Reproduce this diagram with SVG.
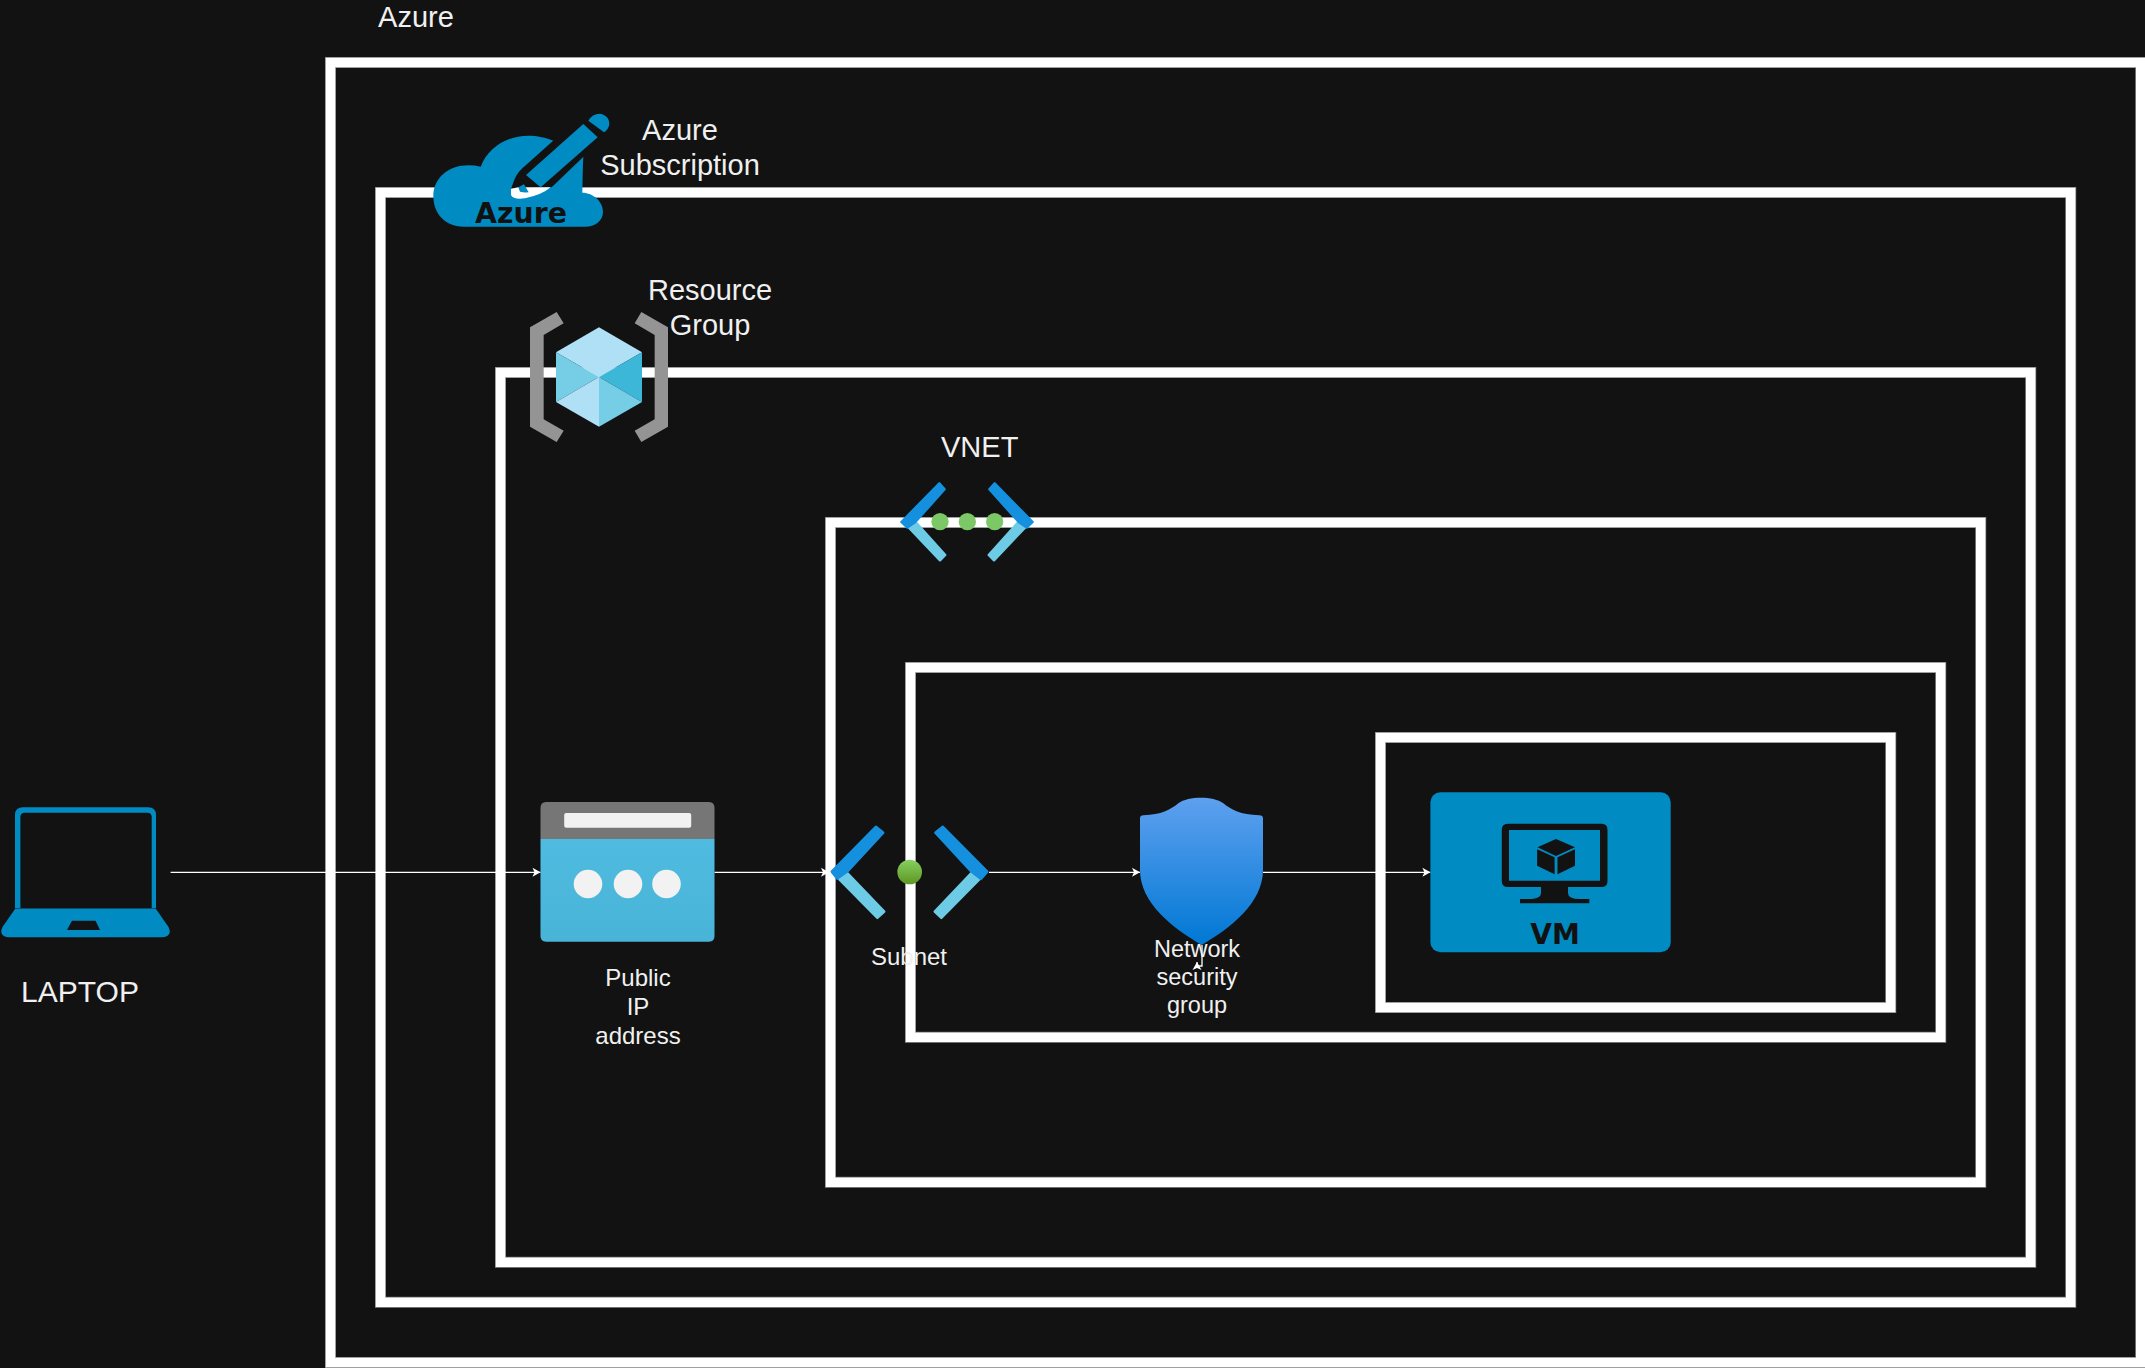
<svg xmlns="http://www.w3.org/2000/svg" width="2145" height="1368" viewBox="0 0 2145 1368">
<defs>
<style>
.edge{fill:none;stroke:#8a8a8a;stroke-width:11}
.bar{fill:none;stroke:#fff;stroke-width:9.4}
.t{font-family:"Liberation Sans",Arial,sans-serif;fill:#f0f0f0;text-anchor:middle}
.l{font-size:29px}
.s{font-size:24px}
.b{font-family:"DejaVu Sans",sans-serif;font-weight:bold;fill:#111;text-anchor:middle}
.c{fill:none;stroke:#fff;stroke-width:1.3;marker-end:url(#a)}
.dk{fill:#1490df;stroke:#1490df;stroke-width:7;stroke-linejoin:round}
.lt{fill:#6ecbe5;stroke:#6ecbe5;stroke-width:7;stroke-linejoin:round}
.az{fill:#008bc2}
.ink{fill:#121212}
</style>
<marker id="a" markerUnits="userSpaceOnUse" markerWidth="12" markerHeight="12" refX="9" refY="5" orient="auto"><path d="M1 0.5L9 5L1 9.5L3 5Z" fill="#fff"/></marker>
<linearGradient id="sh" x1="0" y1="0" x2="0" y2="1"><stop offset="0" stop-color="#5ea0ef"/><stop offset="1" stop-color="#0078d4"/></linearGradient>
<linearGradient id="gr" x1="0" y1="0" x2="0" y2="1"><stop offset="0" stop-color="#86d05f"/><stop offset="1" stop-color="#5e9624"/></linearGradient>
<linearGradient id="pi" x1="0" y1="0" x2="0" y2="1"><stop offset="0" stop-color="#50bbe0"/><stop offset="1" stop-color="#48b4d7"/></linearGradient>
</defs>
<rect width="2145" height="1368" fill="#121212"/>

<g id="azure">
<rect class="edge" x="330.5" y="62.5" width="1810.2" height="1300"/><rect class="bar" x="330.5" y="62.5" width="1810.2" height="1300"/>
<text class="t l" x="416" y="26.7">Azure</text>
</g>
<g id="subscription">
<rect class="edge" x="380.5" y="192.5" width="1690.2" height="1109.8"/><rect class="bar" x="380.5" y="192.5" width="1690.2" height="1109.8"/>
<text class="t l"><tspan x="680" y="140.3">Azure</tspan><tspan x="680" y="175">Subscription</tspan></text>
</g>
<g id="resource-group">
<rect class="edge" x="500.5" y="372.5" width="1530.2" height="889.8"/><rect class="bar" x="500.5" y="372.5" width="1530.2" height="889.8"/>
</g>
<g id="vnet">
<rect class="edge" x="830.5" y="522.5" width="1150.2" height="659.8"/><rect class="bar" x="830.5" y="522.5" width="1150.2" height="659.8"/>
</g>
<g id="subnet">
<rect class="edge" x="910.5" y="667.5" width="1030.2" height="369.8"/><rect class="bar" x="910.5" y="667.5" width="1030.2" height="369.8"/>
</g>
<g id="nsg-box">
<rect class="edge" x="1380.5" y="737.5" width="510.2" height="270"/><rect class="bar" x="1380.5" y="737.5" width="510.2" height="270"/>
</g>

<g id="subscription-icon" transform="translate(300 90) scale(.33333)">
<path class="az" d="M490 410C435 410 400 370 400 318C400 265 445 226 505 226Q525 226 542 230C565 170 625 137 685 137C710 137 740 143 760 152L850 200C848 240 848 270 847 308C880 308 909 335 909 365C909 392 885 410 855 410Z"/>
<path class="ink" d="M762 150L850 88L905 145L838 212L755 292L633 296L642 272Q650 250 668 234Z"/>
<path fill="#fff" d="M633 296L655 292H752Q725 315 675 325Q640 330 633 315Z"/>
<path class="az" d="M850 102L893 142L722 292L678 255Z"/>
<path class="az" d="M865 92Q880 68 905 72Q930 80 928 105Q922 122 912 127Z"/>
<path class="az" d="M655 292L672 283L686 307Q670 308 660 305Z"/>
<text class="b" x="663" y="398" font-size="85">Azure</text>
</g>

<g id="resource-group-icon" transform="translate(300 90) scale(.33333)">
<path fill="#949494" d="M690 712L770 666L791 700L731 735V988L791 1022L770 1056L690 1010Z"/>
<path fill="#949494" d="M1104 712L1024 666L1004 700L1064 735V988L1004 1022L1024 1056L1104 1010Z"/>
<path fill="#afe0f6" d="M897 712L1026 787L897 861L768 787Z"/>
<path fill="#76cde6" d="M768 787L897 861L768 936Z"/>
<path fill="#3db7d8" d="M1026 787L897 861L1026 936Z"/>
<path fill="#afe0f6" d="M768 936L897 861V1010Z"/>
<path fill="#76cde6" d="M897 861L1026 936L897 1010Z"/>
</g>
<text class="t l" id="rg-label"><tspan x="710" y="300.3">Resource</tspan><tspan x="710" y="335">Group</tspan></text>

<g id="vnet-icon" transform="translate(860 420) scale(.33333)">
<path class="lt" d="M146 322L167 306L256 405L240 421Z"/>
<path class="dk" d="M124 306L238 190L254 208L166 306L142 323Z"/>
<path class="lt" d="M496 322L475 306L386 405L402 421Z"/>
<path class="dk" d="M518 306L404 190L388 208L476 306L500 323Z"/>
<circle cx="240" cy="305" r="26" fill="#7cc866"/><circle cx="322" cy="305" r="26" fill="#7cc866"/><circle cx="404" cy="305" r="26" fill="#7cc866"/>
</g>
<text class="t l" id="vnet-label" x="979.7" y="456.7">VNET</text>

<g id="connectors">
<path class="c" d="M170.6 872.3H540.5"/>
<path class="c" d="M714.5 872.3H829"/>
<path class="c" d="M989 872.3H1140"/>
<path class="c" d="M1263 872.3H1430.4"/>
<path class="c" d="M1202 945V966H1197V962"/>
</g>

<g id="laptop">
<path class="az" fill-rule="evenodd" d="M15 908.5V815Q15 807.3 23 807.3H148Q156 807.3 156 815V908.5ZM20.4 908H151.7V817Q151.7 812.7 147 812.7H25Q20.4 812.7 20.4 817Z"/>
<path class="az" d="M15 909H156L168.5 927Q173 937 161 937.3H10Q-2 937 2.5 927Z"/>
<path class="ink" d="M72 920.7H95.5L100 930H67Z"/>
<text class="t" font-size="30" x="80" y="1002.3">LAPTOP</text>
</g>

<g id="public-ip">
<path fill="url(#pi)" d="M540.5 839H714.5V936Q714.5 941.7 709 941.7H546Q540.5 941.7 540.5 936Z"/>
<path fill="#767676" d="M540.5 839V808Q540.5 802 546 802H709Q714.5 802 714.5 808V839Z"/>
<rect x="564.2" y="813" width="127" height="14.7" rx="2" fill="#f2f2f2"/>
<circle cx="588" cy="884" r="14.3" fill="#f2f2f2"/><circle cx="628" cy="884" r="14.3" fill="#f2f2f2"/><circle cx="666.5" cy="884" r="14.3" fill="#f2f2f2"/>
<text class="t s"><tspan x="638" y="985.7">Public</tspan><tspan x="638" y="1014.7">IP</tspan><tspan x="638" y="1044">address</tspan></text>
</g>

<g id="subnet-icon" transform="translate(800 780) scale(.33333)">
<path class="lt" d="M118 298L140 277L253 395L232 414Z"/>
<path class="dk" d="M95 275L228 140L250 158L142 275L112 296Z"/>
<path class="lt" d="M538 298L516 277L404 395L424 414Z"/>
<path class="dk" d="M562 275L428 140L406 158L514 275L543 297Z"/>
<circle cx="329" cy="276" r="37" fill="url(#gr)"/>
<text class="t" x="327" y="555" font-size="72">Subnet</text>
</g>

<g id="nsg">
<path fill="url(#sh)" transform="translate(800 780) scale(.33333)" d="M1020 115Q1020 106 1030 106C1085 104 1110 90 1135 70C1165 48 1240 48 1270 70C1295 90 1320 104 1378 106Q1389 106 1389 115V270C1389 370 1290 445 1205 495C1120 445 1020 370 1020 270Z"/>
<text class="t" font-size="23.5"><tspan x="1197" y="956.5">Network</tspan><tspan x="1197" y="984.5">security</tspan><tspan x="1197" y="1012.5">group</tspan></text>
</g>

<g id="vm">
<rect class="az" x="1430.4" y="792.3" width="240.3" height="160" rx="10"/>
<path class="ink" fill-rule="evenodd" d="M1508 823.7H1601.5Q1607.5 823.7 1607.5 830V881Q1607.5 887 1601.5 887H1508Q1501.8 887 1501.8 881V830Q1501.8 823.7 1508 823.7ZM1509 830V880.7H1600V830Z"/>
<path class="ink" d="M1541 887V893Q1541 899 1528 899H1520V903.3H1589.3V899H1580Q1568 899 1568 893V887Z"/>
<path class="ink" d="M1556 839L1575 847.3L1556 856L1537.5 847.3Z"/>
<path class="ink" d="M1537.1 849.3L1554.6 857.3V874.3L1537.1 865.7Z"/>
<path class="ink" d="M1557.5 857.3L1575 849.3V865.7L1557.5 874.3Z"/>
<text class="b" x="1555" y="943.5" font-size="28">VM</text>
</g>
</svg>
